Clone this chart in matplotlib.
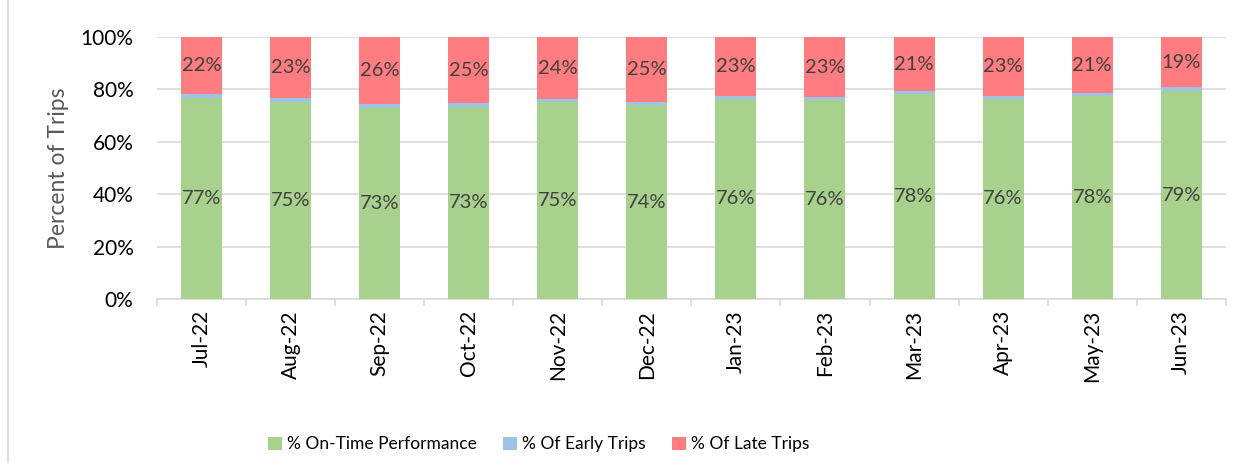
import numpy as np
import matplotlib.pyplot as plt
from matplotlib.patches import Rectangle

months = ['Jul-22', 'Aug-22', 'Sep-22', 'Oct-22', 'Nov-22', 'Dec-22',
          'Jan-23', 'Feb-23', 'Mar-23', 'Apr-23', 'May-23', 'Jun-23']
on_time = [76.6, 75.4, 72.8, 73.4, 75.3, 74.1, 76.4, 76.0, 78.4, 76.4, 77.6, 79.3]
early = [1.6, 1.3, 1.5, 1.3, 1.0, 1.2, 1.0, 1.0, 1.0, 1.0, 1.0, 1.5]
late = [21.8, 23.3, 25.7, 25.3, 23.7, 24.7, 22.6, 23.0, 20.6, 22.6, 21.4, 19.2]

plt.rcParams['font.family'] = ['Lato', 'DejaVu Sans']

fig = plt.figure(figsize=(12.5, 4.63), dpi=100)
ax = fig.add_axes([0.1256, 0.354, 0.855, 0.566])

x = np.arange(len(months))
w = 0.46
on_time = np.array(on_time)
early = np.array(early)
late = np.array(late)

b1 = ax.bar(x, on_time, w, color='#A9D18E', label='% On-Time Performance', zorder=3)
b2 = ax.bar(x, early, w, bottom=on_time, color='#9DC3E6', label='% Of Early Trips', zorder=3)
b3 = ax.bar(x, late, w, bottom=on_time + early, color='#FF7C80', label='% Of Late Trips', zorder=3)

# value labels centred in the green and red segments
for i in range(len(months)):
    ax.text(x[i], on_time[i] / 2, f'{on_time[i]:.0f}%', ha='center', va='center',
            fontsize=14.5, color='#404040', zorder=4)
    ax.text(x[i], on_time[i] + early[i] + late[i] / 2, f'{late[i]:.0f}%', ha='center',
            va='center', fontsize=14.5, color='#404040', zorder=4)

ax.set_xlim(-0.5, len(months) - 0.5)
ax.set_ylim(0, 100)
ax.set_yticks(range(0, 101, 20))
ax.set_yticklabels([f'{v}%' for v in range(0, 101, 20)], fontsize=15)
ax.yaxis.grid(True, color='#D9D9D9', linewidth=1.2, zorder=0)
ax.set_xticks(x)
ax.set_xticklabels(months, rotation=90, fontsize=15)
ax.set_xticks(np.arange(-0.5, len(months)), minor=True)
ax.tick_params(axis='x', which='major', length=0, pad=8)
ax.tick_params(axis='x', which='minor', length=5, color='#D9D9D9', width=1.2)
ax.tick_params(axis='y', length=0, pad=17)
for s in ['top', 'right', 'left']:
    ax.spines[s].set_visible(False)
ax.spines['bottom'].set_color('#D9D9D9')
ax.spines['bottom'].set_linewidth(1.2)
ax.set_ylabel('Percent of Trips', fontsize=16.5, color='#595959', labelpad=8)

fig.legend(handles=[b1, b2, b3], loc='center', bbox_to_anchor=(0.431, 0.04), ncol=3,
           frameon=False, fontsize=12.5, handlelength=0.8, handleheight=0.8,
           handletextpad=0.3, columnspacing=1.5)

fig.patches.append(Rectangle((0.006, -0.01), 1.0, 1.02, transform=fig.transFigure,
                             fill=False, edgecolor='#D9D9D9', linewidth=1.2))

plt.savefig('out.png', dpi=100)
